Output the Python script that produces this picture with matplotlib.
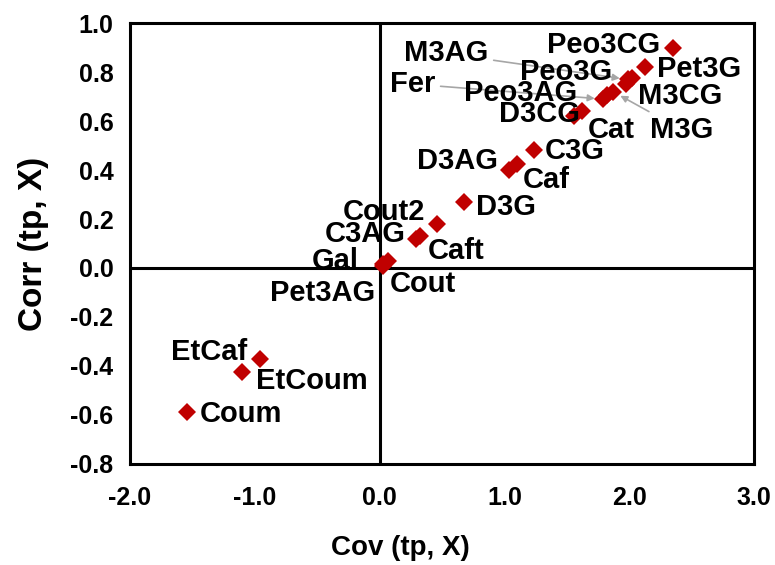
import matplotlib
matplotlib.use("Agg")
import matplotlib.pyplot as plt

plt.rcParams['font.family'] = ['Liberation Sans', 'DejaVu Sans']
plt.rcParams['font.weight'] = 'bold'

# Compound covariance / correlation scores
names = ["Peo3CG", "Pet3G", "M3AG", "Peo3G", "M3CG", "Fer", "Peo3AG", "M3G",
         "D3CG", "Cat", "C3G", "D3AG", "Caf", "D3G", "Cout2", "C3AG", "Caft",
         "Gal", "Pet3AG", "Cout", "EtCaf", "EtCoum", "Coum"]
cov = [2.35, 2.125, 1.99, 1.97, 2.02, 1.79, 1.82, 1.87,
       1.56, 1.62, 1.235, 1.04, 1.10, 0.68, 0.46, 0.29, 0.32,
       0.03, 0.025, 0.065, -0.96, -1.10, -1.54]
corr = [0.90, 0.82, 0.77, 0.75, 0.775, 0.69, 0.705, 0.72,
        0.62, 0.64, 0.48, 0.40, 0.425, 0.27, 0.18, 0.12, 0.13,
        0.015, 0.01, 0.03, -0.37, -0.425, -0.59]

x_ticks = [-2.0, -1.0, 0.0, 1.0, 2.0, 3.0]
y_ticks = [-0.8, -0.6, -0.4, -0.2, 0.0, 0.2, 0.4, 0.6, 0.8, 1.0]

# label placement: (dx px, dy px downward, horizontal alignment, leader arrow)
label_pos = {
    "Peo3CG": (-13, -3, "right", False),
    "Pet3G": (12, 2, "left", False),
    "M3AG": (-182, -26, "center", True),
    "Peo3G": (-59, -12, "center", False),
    "M3CG": (6, 18, "left", False),
    "Fer": (-168, -15, "right", True),
    "Peo3AG": (-86, -2, "center", False),
    "M3G": (37, 38, "left", True),
    "D3CG": (-35, -2, "center", False),
    "Cat": (29, 19, "center", False),
    "C3G": (11, 1, "left", False),
    "D3AG": (-12, -9, "right", False),
    "Caf": (6, 16, "left", False),
    "D3G": (12, 5, "left", False),
    "Cout2": (-53, -12, "center", False),
    "C3AG": (-51, -5, "center", False),
    "Caft": (8, 15, "left", False),
    "Gal": (-48, -3, "center", False),
    "Pet3AG": (-60, 27, "center", False),
    "Cout": (2, 23, "left", False),
    "EtCaf": (-51, -7, "center", False),
    "EtCoum": (14, 9, "left", False),
    "Coum": (12, 2, "left", False),
}

fig = plt.figure(figsize=(7.75, 5.65), dpi=100)
ax = fig.add_axes([0.1677, 0.179, 0.8053, 0.780])

ax.axhline(0, color="black", lw=2.2, zorder=1)
ax.axvline(0, color="black", lw=2.2, zorder=1)

ax.plot(cov, corr, linestyle="none", marker="D", markersize=9,
        color="#C00000", markeredgewidth=0, zorder=3)

px2pt = 72 / 100
for n, x, y in zip(names, cov, corr):
    dx, dy, ha, arrow = label_pos[n]
    kw = {}
    if arrow:
        kw["arrowprops"] = dict(arrowstyle="-|>", color="#A6A6A6", lw=1.2,
                                shrinkA=2, shrinkB=6, mutation_scale=10)
    ax.annotate(n, (x, y), xytext=(dx * px2pt, -dy * px2pt),
                textcoords="offset points", ha=ha, va="center",
                fontsize=21, fontweight="bold", color="black", zorder=4, **kw)

ax.set_xlim(-2.0, 3.0)
ax.set_ylim(-0.8, 1.0)
ax.set_xticks(x_ticks)
ax.set_yticks(y_ticks)
ax.set_xticklabels([f"{v:.1f}" for v in x_ticks])
ax.set_yticklabels([f"{v:.1f}" for v in y_ticks])
ax.tick_params(length=0, labelsize=18)
ax.tick_params(axis="x", pad=16)
ax.tick_params(axis="y", pad=12)
for lab in ax.get_xticklabels() + ax.get_yticklabels():
    lab.set_fontweight("bold")
for s in ax.spines.values():
    s.set_linewidth(2.2)
    s.set_color("black")

ax.set_xlabel("Cov (tp, X)", fontsize=20, fontweight="bold", va="center")
ax.set_ylabel("Corr (tp, X)", fontsize=24, fontweight="bold", va="center")
ax.xaxis.set_label_coords(0.433, -0.19)
ax.yaxis.set_label_coords(-0.155, 0.5)

fig.savefig("out.png", dpi=100)
